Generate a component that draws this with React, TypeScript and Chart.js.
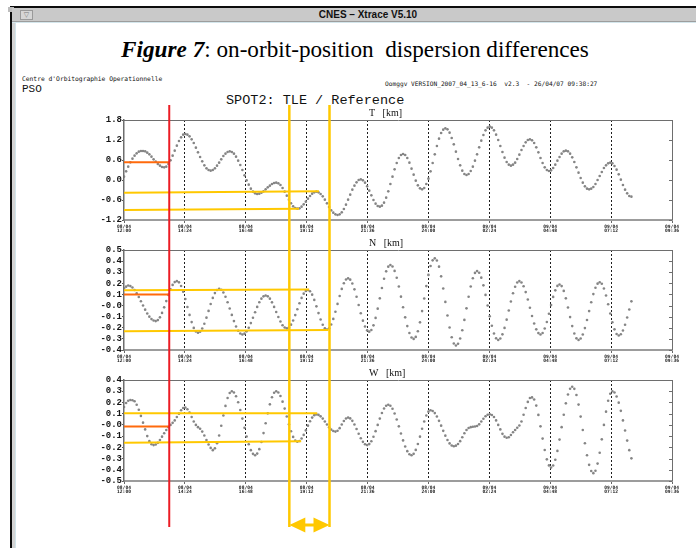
import React, { useEffect, useRef } from 'react';
import { Chart, registerables } from 'chart.js';

Chart.register(...registerables);

// ---------- time axis (minutes after 08/04 12:00) ----------
const SAMPLE_STEP_MIN = 5;
const X_MAX_MIN = 1296;
const X_TICKS_MIN = [0, 144, 288, 432, 576, 720, 864, 1008, 1152, 1296];
const X_TICK_DATES = ['08/04', '08/04', '08/04', '08/04', '08/04', '08/04', '09/04', '09/04', '09/04', '09/04'];
const X_TICK_TIMES = ['12:00', '14:24', '16:48', '19:12', '21:36', '24:00', '02:24', '04:48', '07:12', '09:36'];

// ---------- T [km] (one value every 5 minutes) ----------
const T_VALUES = [
  0.10, 0.26, 0.40, 0.53, 0.64, 0.73, 0.80, 0.85, 0.87, 0.87,
  0.86, 0.82, 0.77, 0.70, 0.62, 0.55, 0.48, 0.43, 0.39, 0.38,
  0.40, 0.48, 0.59, 0.73, 0.88, 1.03, 1.17, 1.28, 1.36, 1.38,
  1.36, 1.31, 1.22, 1.11, 0.97, 0.83, 0.69, 0.56, 0.44, 0.35,
  0.30, 0.28, 0.30, 0.35, 0.43, 0.52, 0.62, 0.72, 0.79, 0.84,
  0.86, 0.84, 0.79, 0.70, 0.58, 0.45, 0.30, 0.14, -0.01, -0.14,
  -0.26, -0.35, -0.40, -0.42, -0.41, -0.38, -0.34, -0.28, -0.22, -0.17,
  -0.12, -0.09, -0.08, -0.10, -0.15, -0.24, -0.35, -0.47, -0.59, -0.70,
  -0.79, -0.84, -0.86, -0.85, -0.80, -0.73, -0.65, -0.56, -0.48, -0.41,
  -0.37, -0.35, -0.37, -0.42, -0.49, -0.59, -0.70, -0.81, -0.91, -0.98,
  -1.03, -1.05, -1.03, -0.97, -0.87, -0.74, -0.59, -0.44, -0.29, -0.17,
  -0.07, 0.00, 0.02, -0.01, -0.08, -0.19, -0.32, -0.46, -0.60, -0.71,
  -0.78, -0.80, -0.77, -0.68, -0.53, -0.34, -0.12, 0.10, 0.32, 0.51,
  0.66, 0.75, 0.78, 0.75, 0.66, 0.52, 0.34, 0.16, -0.02, -0.16,
  -0.25, -0.28, -0.24, -0.12, 0.04, 0.26, 0.51, 0.77, 1.02, 1.24,
  1.41, 1.51, 1.55, 1.52, 1.42, 1.26, 1.07, 0.85, 0.63, 0.44,
  0.28, 0.18, 0.15, 0.18, 0.27, 0.40, 0.58, 0.77, 0.98, 1.18,
  1.35, 1.49, 1.57, 1.60, 1.57, 1.49, 1.36, 1.20, 1.02, 0.84,
  0.67, 0.54, 0.46, 0.43, 0.46, 0.52, 0.63, 0.76, 0.90, 1.02,
  1.13, 1.20, 1.22, 1.19, 1.11, 0.98, 0.83, 0.66, 0.51, 0.38,
  0.30, 0.27, 0.29, 0.36, 0.46, 0.58, 0.69, 0.79, 0.86, 0.88,
  0.86, 0.79, 0.68, 0.54, 0.38, 0.22, 0.06, -0.08, -0.19, -0.26,
  -0.28, -0.26, -0.21, -0.12, 0.00, 0.12, 0.24, 0.36, 0.44, 0.50,
  0.52, 0.50, 0.42, 0.31, 0.17, 0.01, -0.15, -0.29, -0.40, -0.48,
  -0.50,
];

// ---------- N [km] ----------
const N_VALUES = [
  0.155, 0.17, 0.18, 0.175, 0.162, 0.14, 0.111, 0.077, 0.039, 0.001,
  -0.037, -0.071, -0.10, -0.122, -0.135, -0.14, -0.131, -0.106, -0.066, -0.016,
  0.04, 0.096, 0.146, 0.186, 0.211, 0.22, 0.209, 0.176, 0.124, 0.059,
  -0.013, -0.084, -0.149, -0.201, -0.234, -0.245, -0.235, -0.207, -0.164, -0.109,
  -0.048, 0.014, 0.069, 0.112, 0.14, 0.15, 0.142, 0.117, 0.079, 0.03,
  -0.026, -0.084, -0.14, -0.189, -0.227, -0.252, -0.26, -0.253, -0.232, -0.20,
  -0.158, -0.11, -0.06, -0.012, 0.03, 0.062, 0.083, 0.09, 0.083, 0.062,
  0.029, -0.012, -0.058, -0.103, -0.144, -0.177, -0.198, -0.205, -0.197, -0.172,
  -0.134, -0.086, -0.033, 0.021, 0.069, 0.107, 0.132, 0.14, 0.129, 0.098,
  0.051, -0.007, -0.068, -0.126, -0.173, -0.204, -0.215, -0.204, -0.171, -0.12,
  -0.056, 0.015, 0.086, 0.15, 0.201, 0.234, 0.245, 0.233, 0.199, 0.146,
  0.079, 0.005, -0.069, -0.136, -0.189, -0.223, -0.235, -0.22, -0.178, -0.111,
  -0.028, 0.065, 0.158, 0.241, 0.308, 0.35, 0.365, 0.351, 0.312, 0.25,
  0.171, 0.08, -0.015, -0.106, -0.185, -0.247, -0.287, -0.30, -0.282, -0.231,
  -0.151, -0.05, 0.063, 0.175, 0.276, 0.356, 0.407, 0.425, 0.406, 0.35,
  0.263, 0.154, 0.033, -0.089, -0.198, -0.285, -0.341, -0.36, -0.344, -0.296,
  -0.222, -0.129, -0.025, 0.079, 0.172, 0.246, 0.294, 0.31, 0.295, 0.251,
  0.182, 0.096, 0.0, -0.096, -0.182, -0.251, -0.295, -0.31, -0.297, -0.259,
  -0.201, -0.127, -0.045, 0.037, 0.111, 0.169, 0.207, 0.22, 0.208, 0.174,
  0.121, 0.054, -0.02, -0.094, -0.161, -0.214, -0.248, -0.26, -0.247, -0.207,
  -0.148, -0.074, 0.004, 0.078, 0.137, 0.177, 0.19, 0.175, 0.132, 0.065,
  -0.017, -0.104, -0.185, -0.252, -0.295, -0.31, -0.297, -0.26, -0.203, -0.13,
  -0.05, 0.03, 0.103, 0.16, 0.197, 0.21, 0.196, 0.154, 0.09, 0.012,
  -0.072, -0.15, -0.214, -0.256, -0.27, -0.258, -0.225, -0.173, -0.108, -0.035,
  0.038,
];

// ---------- W [km] ----------
const W_VALUES = [
  0.16, 0.195, 0.215, 0.222, 0.22, 0.21, 0.18, 0.135, 0.08, 0.02,
  -0.04, -0.10, -0.145, -0.172, -0.18, -0.175, -0.16, -0.135, -0.105, -0.075,
  -0.045, -0.02, 0.0, 0.018, 0.04, 0.07, 0.10, 0.13, 0.15, 0.155,
  0.14, 0.11, 0.07, 0.03, 0.0, -0.02, -0.035, -0.06, -0.095, -0.135,
  -0.175, -0.205, -0.225, -0.209, -0.164, -0.094, -0.008, 0.083, 0.169, 0.239,
  0.284, 0.30, 0.288, 0.255, 0.202, 0.133, 0.056, -0.026, -0.103, -0.172,
  -0.225, -0.258, -0.27, -0.256, -0.216, -0.153, -0.073, 0.015, 0.103, 0.183,
  0.246, 0.286, 0.30, 0.289, 0.257, 0.207, 0.145, 0.075, 0.005, -0.057,
  -0.107, -0.139, -0.15, -0.143, -0.121, -0.089, -0.049, -0.007, 0.033, 0.065,
  0.087, 0.094, 0.089, 0.076, 0.056, 0.03, 0.004, -0.022, -0.042, -0.055,
  -0.06, -0.052, -0.029, 0.003, 0.034, 0.057, 0.065, 0.058, 0.036, 0.004,
  -0.036, -0.079, -0.119, -0.151, -0.173, -0.18, -0.171, -0.146, -0.106, -0.056,
  0.0, 0.056, 0.106, 0.146, 0.171, 0.18, 0.171, 0.144, 0.102, 0.048,
  -0.013, -0.077, -0.138, -0.192, -0.234, -0.261, -0.27, -0.258, -0.223, -0.17,
  -0.105, -0.035, 0.03, 0.083, 0.118, 0.13, 0.124, 0.105, 0.075, 0.036,
  -0.007, -0.053, -0.096, -0.135, -0.165, -0.184, -0.19, -0.185, -0.17, -0.145,
  -0.11, -0.075, -0.045, -0.028, -0.02, -0.017, -0.015, -0.01, 0.005, 0.03,
  0.055, 0.077, 0.09, 0.094, 0.088, 0.07, 0.04, 0.0, -0.04, -0.08,
  -0.105, -0.115, -0.11, -0.09, -0.065, -0.045, -0.025, -0.005, 0.03, 0.09,
  0.15, 0.205, 0.24, 0.245, 0.226, 0.172, 0.089, -0.013, -0.122, -0.224,
  -0.307, -0.361, -0.38, -0.362, -0.311, -0.232, -0.131, -0.02, 0.091, 0.192,
  0.271, 0.322, 0.34, 0.321, 0.266, 0.181, 0.074, -0.045, -0.164, -0.271,
  -0.356, -0.411, -0.43, -0.408, -0.345, -0.248, -0.129, 0.0, 0.118, 0.215,
  0.278, 0.30, 0.288, 0.253, 0.198, 0.125, 0.04, -0.05, -0.14, -0.225,
  -0.298,
];

// ---------- y ticks ----------
const T_TICKS = [1.8, 1.2, 0.6, 0.0, -0.6, -1.2];
const T_TICK_LABELS = ['1.8', '1.2', '0.6', '0.0', '-0.6', '-1.2'];
const N_TICKS = [0.5, 0.4, 0.3, 0.2, 0.1, 0.0, -0.1, -0.2, -0.3, -0.4];
const N_TICK_LABELS = ['0.5', '0.4', '0.3', '0.2', '0.1', '-0.0', '-0.1', '-0.2', '-0.3', '-0.4'];
const W_TICKS = [0.4, 0.3, 0.2, 0.1, 0.0, -0.1, -0.2, -0.3, -0.4, -0.5];
const W_TICK_LABELS = ['0.4', '0.3', '0.2', '0.1', '-0.0', '-0.1', '-0.2', '-0.3', '-0.4', '-0.5'];

// ---------- annotations (time in minutes, values in km) ----------
const RED_MARK_MIN = 107;
const YELLOW_MARKS_MIN = [391, 486];
const ORANGE_SPAN_MIN = [0, 107];
const T_ORANGE = [0.53, 0.53];
const N_ORANGE = [0.10, 0.10];
const W_ORANGE = [-0.015, -0.015];
const T_YELLOW_HI_X = [0, 461];
const T_YELLOW_HI_Y = [-0.38, -0.34];
const T_YELLOW_LO_X = [0, 414];
const T_YELLOW_LO_Y = [-0.90, -0.86];
const N_YELLOW_HI_X = [0, 438];
const N_YELLOW_HI_Y = [0.137, 0.144];
const N_YELLOW_LO_X = [0, 483];
const N_YELLOW_LO_Y = [-0.232, -0.219];
const W_YELLOW_HI_X = [0, 457];
const W_YELLOW_HI_Y = [0.103, 0.103];
const W_YELLOW_LO_X = [0, 419];
const W_YELLOW_LO_Y = [-0.159, -0.146];

const RED = '#ec1c24';
const YELLOW = '#ffc800';
const ORANGE = '#ff6a0c';
const DOT = '#858585';

const sampled = (ys: number[]) => ys.map((y, i) => ({ x: i * SAMPLE_STEP_MIN, y }));
const pairs = (xs: number[], ys: number[]) => ys.map((y, i) => ({ x: xs[i], y }));

const panelDecor = {
  id: 'panelDecor',
  afterDraw(chart: any, _args: any, opts: any) {
    const { ctx, chartArea: a } = chart;
    const xs = chart.scales.x;
    const ys = chart.scales.y;
    ctx.save();
    ctx.strokeStyle = '#6e6e6e';
    ctx.lineWidth = 1;
    ctx.beginPath();
    ctx.moveTo(a.left, a.top + 0.5);
    ctx.lineTo(a.right + 1, a.top + 0.5);
    ctx.moveTo(a.right + 0.5, a.top);
    ctx.lineTo(a.right + 0.5, a.bottom);
    for (const t of ys.ticks) {
      const py = Math.round(ys.getPixelForValue(t.value)) + 0.5;
      ctx.moveTo(a.right - 3, py);
      ctx.lineTo(a.right, py);
    }
    ctx.stroke();

    ctx.fillStyle = '#111';
    ctx.font = '10px "Liberation Serif"';
    ctx.textBaseline = 'middle';
    ctx.textAlign = 'left';
    ctx.fillText(opts.label, opts.labelX, a.top - 7);

    const drawV = (v: number, color: string, w: number) => {
      const px = xs.getPixelForValue(v);
      ctx.strokeStyle = color;
      ctx.lineWidth = w;
      ctx.beginPath();
      ctx.moveTo(px, opts.markTop);
      ctx.lineTo(px, opts.markBottom);
      ctx.stroke();
    };
    YELLOW_MARKS_MIN.forEach((v) => drawV(v, YELLOW, 2.5));
    drawV(RED_MARK_MIN, RED, 2);

    if (opts.arrowY !== null && opts.arrowY !== undefined) {
      const l = xs.getPixelForValue(YELLOW_MARKS_MIN[0]);
      const r = xs.getPixelForValue(YELLOW_MARKS_MIN[1]);
      const y = opts.arrowY;
      ctx.fillStyle = YELLOW;
      ctx.strokeStyle = YELLOW;
      ctx.lineWidth = 3;
      ctx.beginPath();
      ctx.moveTo(l + 14, y);
      ctx.lineTo(r - 14, y);
      ctx.stroke();
      ctx.beginPath();
      ctx.moveTo(l, y);
      ctx.lineTo(l + 16, y - 7.5);
      ctx.lineTo(l + 16, y + 7.5);
      ctx.closePath();
      ctx.fill();
      ctx.beginPath();
      ctx.moveTo(r, y);
      ctx.lineTo(r - 16, y - 7.5);
      ctx.lineTo(r - 16, y + 7.5);
      ctx.closePath();
      ctx.fill();
    }
    ctx.restore();
  },
};

type PanelProps = {
  top: number;
  height: number;
  padTop: number;
  padBottom: number;
  values: number[];
  yMin: number;
  yMax: number;
  yTicks: number[];
  yLabels: string[];
  orange: number[];
  hiX: number[];
  hiY: number[];
  loX: number[];
  loY: number[];
  label: string;
  markTop: number;
  markBottom: number;
  arrowY: number | null;
};

function Panel(p: PanelProps) {
  const ref = useRef<HTMLCanvasElement | null>(null);
  useEffect(() => {
    if (!ref.current) return;
    const chart = new Chart(ref.current, {
      type: 'scatter',
      data: {
        datasets: [
          {
            data: sampled(p.values),
            showLine: false,
            pointRadius: 1.3,
            pointBackgroundColor: DOT,
            pointBorderWidth: 0,
            order: 3,
          },
          {
            data: pairs(ORANGE_SPAN_MIN, p.orange),
            showLine: true,
            borderColor: ORANGE,
            borderWidth: 2,
            pointRadius: 0,
            order: 2,
          },
          {
            data: pairs(p.hiX, p.hiY),
            showLine: true,
            borderColor: YELLOW,
            borderWidth: 2,
            pointRadius: 0,
            order: 1,
          },
          {
            data: pairs(p.loX, p.loY),
            showLine: true,
            borderColor: YELLOW,
            borderWidth: 2,
            pointRadius: 0,
            order: 1,
          },
        ],
      },
      options: {
        animation: false,
        responsive: false,
        events: [],
        layout: { padding: { top: p.padTop, right: 24, bottom: p.padBottom, left: 0 } },
        plugins: {
          legend: { display: false },
          tooltip: { enabled: false },
          title: { display: false },
          panelDecor: {
            label: p.label,
            labelX: 369,
            markTop: p.markTop,
            markBottom: p.markBottom,
            arrowY: p.arrowY,
          },
        } as any,
        scales: {
          x: {
            type: 'linear',
            min: 0,
            max: X_MAX_MIN,
            afterBuildTicks: (s: any) => {
              s.ticks = X_TICKS_MIN.map((v) => ({ value: v }));
            },
            afterFit: (s: any) => {
              s.height = 18;
            },
            ticks: {
              autoSkip: false,
              maxRotation: 0,
              minRotation: 0,
              padding: 1,
              color: '#1a1a1a',
              font: { family: '"DejaVu Sans Mono"', size: 4.6, weight: 'bold', lineHeight: 1 },
              callback: (v: any) => {
                const i = X_TICKS_MIN.indexOf(Number(v));
                return i < 0 ? '' : [X_TICK_DATES[i], X_TICK_TIMES[i]];
              },
            },
            grid: {
              display: true,
              drawOnChartArea: true,
              lineWidth: 1,
              color: (c: any) =>
                c.tick && (c.tick.value <= 0 || c.tick.value >= X_MAX_MIN) ? 'rgba(0,0,0,0)' : '#1e1e1e',
              tickColor: '#666',
              tickLength: 3,
            },
            border: { display: true, color: '#9c9c9c', width: 2, dash: [2, 2] },
          },
          y: {
            type: 'linear',
            min: p.yMin,
            max: p.yMax,
            afterBuildTicks: (s: any) => {
              s.ticks = p.yTicks.map((v) => ({ value: v }));
            },
            afterFit: (s: any) => {
              s.width = 124;
            },
            ticks: {
              autoSkip: false,
              padding: 0,
              color: '#151515',
              font: { family: '"Liberation Mono"', size: 9, weight: 'bold' },
              callback: (v: any) => {
                const i = p.yTicks.findIndex((t) => Math.abs(t - Number(v)) < 1e-6);
                return i < 0 ? '' : p.yLabels[i];
              },
            },
            grid: { display: true, drawOnChartArea: false, tickLength: 2, color: '#555', tickColor: '#555' },
            border: { display: true, color: '#6e6e6e', width: 1.5 },
          },
        },
      } as any,
      plugins: [panelDecor as any],
    });
    return () => chart.destroy();
  }, []);
  return (
    <canvas
      ref={ref}
      width={696}
      height={p.height}
      style={{ position: 'absolute', left: 0, top: p.top, width: 696, height: p.height }}
    />
  );
}

export default function App() {
  const abs = (s: React.CSSProperties): React.CSSProperties => ({ position: 'absolute', ...s });
  return (
    <div style={abs({ left: 0, top: 0, width: 696, height: 548, background: '#ffffff', overflow: 'hidden' })}>
      {/* window frame */}
      <div style={abs({ left: 10, top: 6, width: 686, height: 2, background: '#0d0d0d' })} />
      <div style={abs({ left: 10, top: 11, width: 2, height: 537, background: '#0d0d0d' })} />
      <div style={abs({ left: 8, top: 7, width: 6, height: 5, background: '#bdbdbd' })} />
      <div style={abs({ left: 12, top: 8, width: 3, height: 540, background: '#d3d3d3' })} />
      <div style={abs({ left: 15, top: 23, width: 1, height: 525, background: '#d2e4ea' })} />
      <div style={abs({ left: 12, top: 8, width: 684, height: 13, background: '#c9c9c9', borderBottom: '1px solid #9d9d9d' })} />
      <div style={abs({ left: 12, top: 22, width: 684, height: 1, background: '#d4e6ec' })} />
      <div
        style={abs({
          left: 20,
          top: 10,
          width: 11,
          height: 8,
          background: '#d6d6d6',
          border: '1px solid #9a9a9a',
          fontSize: 7,
          lineHeight: '8px',
          textAlign: 'center',
          color: '#777',
          fontFamily: '"DejaVu Sans"',
        })}
      >
        ▽
      </div>
      <div
        style={abs({
          left: 268,
          top: 8,
          width: 200,
          height: 13,
          lineHeight: '13px',
          textAlign: 'center',
          fontFamily: '"Liberation Sans", sans-serif',
          fontWeight: 'bold',
          fontSize: 10,
          color: '#111',
        })}
      >
        CNES – Xtrace V5.10
      </div>

      {/* figure caption */}
      <div
        style={abs({
          left: 0,
          top: 34,
          width: 710,
          textAlign: 'center',
          fontFamily: '"Liberation Serif", serif',
          fontSize: 23.2,
          lineHeight: '30px',
          color: '#000',
          whiteSpace: 'pre',
        })}
      >
        <b><i>Figure</i></b> <b><i>7</i></b>{': on-orbit-position  dispersion differences'}
      </div>

      {/* plot header texts */}
      <div style={abs({ left: 22, top: 75, fontFamily: '"DejaVu Sans Mono", monospace', fontSize: 6.3, lineHeight: '7px', color: '#111', whiteSpace: 'pre' })}>
        Centre d'Orbitographie Operationnelle
      </div>
      <div style={abs({ left: 22, top: 83, fontFamily: '"Liberation Mono", monospace', fontSize: 11, lineHeight: '12px', color: '#111' })}>
        PSO
      </div>
      <div style={abs({ left: 385, top: 80, fontFamily: '"DejaVu Sans Mono", monospace', fontSize: 6.2, lineHeight: '7px', color: '#111', whiteSpace: 'pre' })}>
        Oomggv VERSION_2007_04_13_6-16  v2.3  - 26/04/07 09:38:27
      </div>
      <div style={abs({ left: 226, top: 94, fontFamily: '"Liberation Mono", monospace', fontSize: 13.5, lineHeight: '14px', color: '#111', whiteSpace: 'pre' })}>
        SPOT2: TLE / Reference
      </div>

      <Panel
        top={100}
        height={138}
        padTop={20}
        padBottom={0}
        values={T_VALUES}
        yMin={-1.2}
        yMax={1.8}
        yTicks={T_TICKS}
        yLabels={T_TICK_LABELS}
        orange={T_ORANGE}
        hiX={T_YELLOW_HI_X}
        hiY={T_YELLOW_HI_Y}
        loX={T_YELLOW_LO_X}
        loY={T_YELLOW_LO_Y}
        label="T   [km]"
        markTop={5}
        markBottom={138}
        arrowY={null}
      />
      <Panel
        top={238}
        height={130}
        padTop={12}
        padBottom={0}
        values={N_VALUES}
        yMin={-0.4}
        yMax={0.5}
        yTicks={N_TICKS}
        yLabels={N_TICK_LABELS}
        orange={N_ORANGE}
        hiX={N_YELLOW_HI_X}
        hiY={N_YELLOW_HI_Y}
        loX={N_YELLOW_LO_X}
        loY={N_YELLOW_LO_Y}
        label="N   [km]"
        markTop={0}
        markBottom={130}
        arrowY={null}
      />
      <Panel
        top={368}
        height={180}
        padTop={12}
        padBottom={49}
        values={W_VALUES}
        yMin={-0.5}
        yMax={0.4}
        yTicks={W_TICKS}
        yLabels={W_TICK_LABELS}
        orange={W_ORANGE}
        hiX={W_YELLOW_HI_X}
        hiY={W_YELLOW_HI_Y}
        loX={W_YELLOW_LO_X}
        loY={W_YELLOW_LO_Y}
        label="W   [km]"
        markTop={0}
        markBottom={159}
        arrowY={157}
      />
    </div>
  );
}
